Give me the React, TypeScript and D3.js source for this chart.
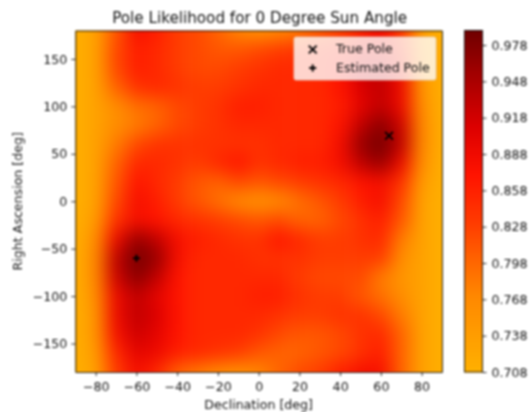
import React, { useRef, useEffect } from 'react';
import * as d3 from 'd3';

const declinations = d3.range(-90, 91, 10);
const ascensions = d3.range(180, -181, -20);

// likelihood, one row per right ascension, top to bottom
const likelihood = [
  [.71,.73,.81,.88,.86,.83,.82,.80,.77,.75,.76,.78,.80,.82,.85,.88,.83,.73,.71],
  [.71,.73,.82,.86,.85,.83,.82,.81,.81,.82,.83,.84,.85,.86,.89,.90,.85,.74,.71],
  [.71,.73,.82,.86,.85,.83,.82,.82,.83,.84,.85,.85,.85,.87,.92,.93,.88,.75,.71],
  [.71,.73,.80,.84,.85,.84,.83,.83,.84,.85,.85,.85,.85,.87,.91,.93,.89,.75,.71],
  [.71,.73,.76,.79,.80,.82,.83,.84,.86,.86,.85,.85,.85,.86,.90,.93,.89,.76,.71],
  [.71,.73,.76,.78,.80,.82,.83,.84,.85,.85,.85,.85,.85,.87,.93,.97,.92,.77,.71],
  [.71,.73,.78,.82,.84,.84,.84,.84,.84,.84,.85,.85,.85,.88,.96,.985,.93,.77,.71],
  [.71,.73,.80,.85,.85,.84,.83,.85,.87,.84,.85,.86,.86,.88,.93,.96,.89,.76,.71],
  [.71,.73,.81,.87,.85,.83,.81,.80,.82,.81,.82,.83,.84,.85,.87,.88,.84,.74,.71],
  [.71,.73,.82,.88,.86,.83,.81,.79,.76,.75,.76,.79,.81,.83,.86,.88,.82,.73,.71],
  [.71,.74,.84,.88,.87,.85,.84,.83,.82,.81,.82,.80,.80,.82,.84,.86,.81,.73,.71],
  [.71,.76,.89,.96,.93,.88,.86,.85,.84,.84,.87,.85,.83,.83,.84,.85,.78,.73,.71],
  [.71,.77,.93,.985,.96,.88,.85,.85,.85,.84,.84,.84,.83,.83,.83,.83,.76,.73,.71],
  [.71,.77,.92,.97,.93,.87,.85,.85,.85,.85,.85,.83,.82,.82,.82,.78,.75,.73,.71],
  [.71,.76,.89,.93,.90,.87,.85,.85,.85,.86,.86,.84,.83,.83,.81,.79,.76,.73,.71],
  [.71,.75,.89,.93,.91,.87,.85,.85,.85,.85,.84,.83,.83,.84,.84,.82,.78,.73,.71],
  [.71,.75,.88,.92,.90,.87,.85,.85,.85,.84,.82,.81,.81,.82,.84,.85,.80,.73,.71],
  [.71,.74,.85,.90,.89,.86,.85,.84,.83,.81,.80,.80,.81,.82,.84,.86,.80,.73,.71],
  [.71,.73,.83,.88,.85,.80,.78,.76,.75,.77,.80,.82,.83,.86,.88,.88,.80,.73,.71],
];

const xTicks = [-80, -60, -40, -20, 0, 20, 40, 60, 80];
const yTicks = [-150, -100, -50, 0, 50, 100, 150];
const barTicks = [0.708, 0.738, 0.768, 0.798, 0.828, 0.858, 0.888, 0.918, 0.948, 0.978];
const colorStops = [0.708, 0.77, 0.80, 0.83, 0.87, 0.91, 0.96, 0.99];
const colorValues = ['#ffb000', '#ff8800', '#ff6400', '#ff3c00', '#ff1400', '#dc0000', '#9a0000', '#6e0000'];

const trueDec = 64;
const trueRa = 69;
const estDec = -60;
const estRa = -60;

const W = 530;
const H = 412;
const left = 75.3;
const right = 442;
const top = 30.5;
const bottom = 372;
const barLeft = 464.5;
const barRight = 482.5;
const FONT = '"DejaVu Sans", sans-serif';
const TICK_FONT = 12.6;

const App = () => {
  const svgRef = useRef<SVGSVGElement>(null);

  useEffect(() => {
    const svg = d3.select(svgRef.current);
    svg.selectAll('*').remove();

    const x = d3.scaleLinear().domain([-90, 90]).range([left, right]);
    const y = d3.scaleLinear().domain([-180, 180]).range([bottom, top]);
    const color = d3.scaleLinear<string>().domain(colorStops).range(colorValues).clamp(true);
    const barY = d3.scaleLinear().domain([0.708, 0.99]).range([bottom, top]);

    const defs = svg.append('defs');
    defs.append('clipPath').attr('id', 'plot').append('rect')
      .attr('x', left).attr('y', top).attr('width', right - left).attr('height', bottom - top);
    defs.append('filter').attr('id', 'smooth')
      .attr('filterUnits', 'userSpaceOnUse')
      .attr('x', 0).attr('y', -40).attr('width', W).attr('height', H + 80)
      .attr('color-interpolation-filters', 'sRGB')
      .append('feGaussianBlur').attr('stdDeviation', 9);
    defs.append('filter').attr('id', 'soft')
      .attr('filterUnits', 'userSpaceOnUse')
      .attr('x', 0).attr('y', 0).attr('width', W).attr('height', H)
      .attr('color-interpolation-filters', 'sRGB')
      .append('feGaussianBlur').attr('stdDeviation', 0.8);

    const root = svg.append('g').attr('filter', 'url(#soft)');
    root.append('rect').attr('width', W).attr('height', H).attr('fill', 'white');

    // heatmap: one rect per read value, edge cells run past the clip so the blur stays solid
    const dx = (x(10) - x(0)) / 2;
    const dy = (y(0) - y(20)) / 2;
    const cells = root.append('g').attr('clip-path', 'url(#plot)')
      .append('g').attr('filter', 'url(#smooth)');
    likelihood.forEach((row, r) => {
      row.forEach((v, c) => {
        const x0 = x(declinations[c]) - dx - (c === 0 ? 40 : 0);
        const x1 = x(declinations[c]) + dx + (c === row.length - 1 ? 40 : 0);
        const y0 = y(ascensions[r]) - dy - (r === 0 ? 40 : 0);
        const y1 = y(ascensions[r]) + dy + (r === likelihood.length - 1 ? 40 : 0);
        cells.append('rect')
          .attr('x', x0).attr('y', y0)
          .attr('width', x1 - x0 + 0.5).attr('height', y1 - y0 + 0.5)
          .attr('fill', color(v));
      });
    });

    const styleAxis = (g: any) => {
      g.selectAll('text').attr('font-family', FONT).attr('font-size', TICK_FONT).attr('fill', '#111');
      g.selectAll('line').attr('stroke', '#111').attr('stroke-width', 0.9);
      g.select('.domain').attr('stroke', '#111').attr('stroke-width', 0.9);
    };

    root.append('g').attr('transform', `translate(0,${bottom})`)
      .call(d3.axisBottom(x).tickValues(xTicks).tickSize(4).tickPadding(6).tickSizeOuter(0))
      .call(styleAxis);
    root.append('g').attr('transform', `translate(${left},0)`)
      .call(d3.axisLeft(y).tickValues(yTicks).tickSize(4).tickPadding(4).tickSizeOuter(0))
      .call(styleAxis);
    root.append('g').attr('transform', `translate(0,${top})`)
      .call(d3.axisTop(x).tickValues([]).tickSize(0))
      .call(styleAxis);
    root.append('g').attr('transform', `translate(${right},0)`)
      .call(d3.axisRight(y).tickValues([]).tickSize(0))
      .call(styleAxis);

    root.append('path').attr('d', d3.symbol(d3.symbolTimes, 42)())
      .attr('transform', `translate(${x(trueDec)},${y(trueRa)})`)
      .attr('stroke', 'black').attr('stroke-width', 1.8).attr('fill', 'none');
    root.append('path').attr('d', d3.symbol(d3.symbolPlus, 18)())
      .attr('transform', `translate(${x(estDec)},${y(estRa)})`)
      .attr('stroke', 'black').attr('stroke-width', 2).attr('fill', 'none');

    // legend
    const legend = root.append('g');
    legend.append('rect')
      .attr('x', 294).attr('y', 37).attr('width', 142).attr('height', 43).attr('rx', 2)
      .attr('fill', 'white').attr('fill-opacity', 0.8).attr('stroke', '#e0d0c8').attr('stroke-width', 0.8);
    legend.append('path').attr('d', d3.symbol(d3.symbolTimes, 42)())
      .attr('transform', 'translate(312.7,49.5)')
      .attr('stroke', 'black').attr('stroke-width', 1.8).attr('fill', 'none');
    legend.append('path').attr('d', d3.symbol(d3.symbolPlus, 18)())
      .attr('transform', 'translate(312.7,68)')
      .attr('stroke', 'black').attr('stroke-width', 2).attr('fill', 'none');
    legend.append('text').text('True Pole')
      .attr('x', 336).attr('y', 52.5).attr('font-family', FONT).attr('font-size', TICK_FONT).attr('fill', '#111');
    legend.append('text').text('Estimated Pole')
      .attr('x', 336).attr('y', 72).attr('font-family', FONT).attr('font-size', TICK_FONT).attr('fill', '#111');

    // colorbar
    const barSteps = d3.range(0.708, 0.99, 0.002);
    root.append('g').selectAll('rect').data(barSteps).enter().append('rect')
      .attr('x', barLeft).attr('width', barRight - barLeft)
      .attr('y', (d) => barY(d + 0.002) - 0.5)
      .attr('height', (d) => barY(d) - barY(d + 0.002) + 1)
      .attr('fill', (d) => color(d));
    root.append('rect')
      .attr('x', barLeft).attr('y', top).attr('width', barRight - barLeft).attr('height', bottom - top)
      .attr('fill', 'none').attr('stroke', '#111').attr('stroke-width', 0.9);
    root.append('g').attr('transform', `translate(${barRight},0)`)
      .call(d3.axisRight(barY).tickValues(barTicks).tickFormat(d3.format('.3f')).tickSize(4).tickPadding(5).tickSizeOuter(0))
      .call(styleAxis)
      .call((g: any) => g.select('.domain').remove());

    root.append('text').text('Pole Likelihood for 0 Degree Sun Angle')
      .attr('x', (left + right) / 2 + 1).attr('y', 23).attr('text-anchor', 'middle')
      .attr('font-family', FONT).attr('font-size', 15.2).attr('fill', '#111');
    root.append('text').text('Declination [deg]')
      .attr('x', (left + right) / 2).attr('y', 409).attr('text-anchor', 'middle')
      .attr('font-family', FONT).attr('font-size', TICK_FONT).attr('fill', '#111');
    root.append('text').text('Right Ascension [deg]')
      .attr('transform', `translate(22,${(top + bottom) / 2}) rotate(-90)`).attr('text-anchor', 'middle')
      .attr('font-family', FONT).attr('font-size', TICK_FONT).attr('fill', '#111');
  }, []);

  return (
    <svg ref={svgRef} width={W} height={H} style={{ position: 'absolute', left: 0, top: 0 }}></svg>
  );
};

export default App;
